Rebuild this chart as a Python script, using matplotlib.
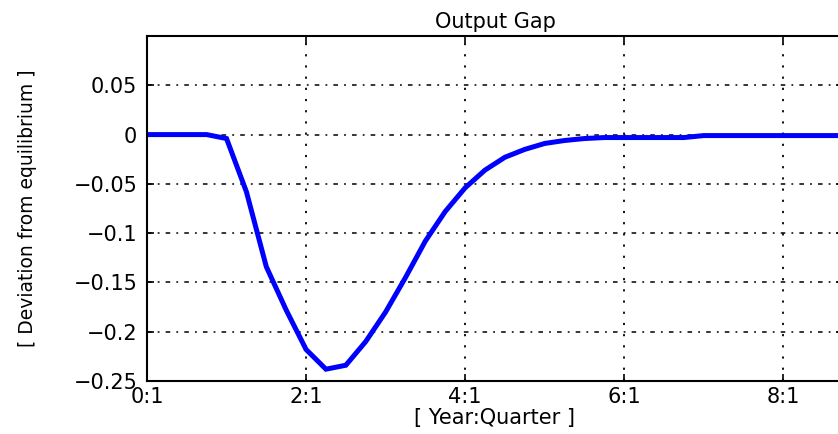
import matplotlib
matplotlib.use("Agg")
import matplotlib.pyplot as plt
import numpy as np

############   DATA   #############
# quarters after the shock (0 = year 0, quarter 1)
quarters = np.arange(36)
output_gap = [0.0, 0.0, 0.0, 0.0, -0.004, -0.058, -0.134, -0.178, -0.218, -0.238,
              -0.234, -0.210, -0.180, -0.145, -0.108, -0.078, -0.054, -0.036, -0.023, -0.015,
              -0.009, -0.006, -0.004, -0.003, -0.003, -0.003, -0.003, -0.003, -0.001, -0.001,
              -0.001, -0.001, -0.001, -0.001, -0.001, -0.001]

xtick_pos = [0, 8, 16, 24, 32]
xtick_lab = ["0:1", "2:1", "4:1", "6:1", "8:1"]
ytick_pos = [-0.25, -0.2, -0.15, -0.1, -0.05, 0, 0.05]
ytick_lab = ["\u22120.25", "\u22120.2", "\u22120.15", "\u22120.1", "\u22120.05", "0", "0.05"]

plt.rcParams["font.family"] = ["DejaVu Sans"]

fig = plt.figure(figsize=(8.38, 4.34), dpi=100)
ax = fig.add_axes([0.1754, 0.1221, 0.8305, 0.7949])

ax.plot(quarters, output_gap, color=(0, 0, 1), linewidth=3.6, solid_joinstyle="miter")

ax.set_xlim(0, 35)
ax.set_ylim(-0.25, 0.1)
ax.set_xticks(xtick_pos)
ax.set_xticklabels(xtick_lab)
ax.set_yticks(ytick_pos)
ax.set_yticklabels(ytick_lab)

# matlab style: inward ticks on all sides, dotted grid
ax.tick_params(direction="in", length=5, width=1.2, top=True, right=True,
               labelsize=15, colors="black")
ax.tick_params(axis="y", pad=7)
ax.tick_params(axis="x", pad=4)
ax.xaxis.grid(True, color="black", linestyle=(0, (1.2, 5)), linewidth=1.3)
ax.yaxis.grid(True, color="black", linestyle=(0, (3, 4, 1.2, 4)), linewidth=1.1)
ax.set_axisbelow(True)

for sp in ax.spines.values():
    sp.set_linewidth(1.5)
    sp.set_color("black")

ax.set_title("Output Gap", fontsize=15, pad=6, x=0.5)
ax.set_xlabel("[ Year:Quarter ]", fontsize=15, labelpad=1)
ax.set_ylabel("[ Deviation from equilibrium ]", fontsize=13.5, labelpad=26)

fig.savefig("out.png", dpi=100)
